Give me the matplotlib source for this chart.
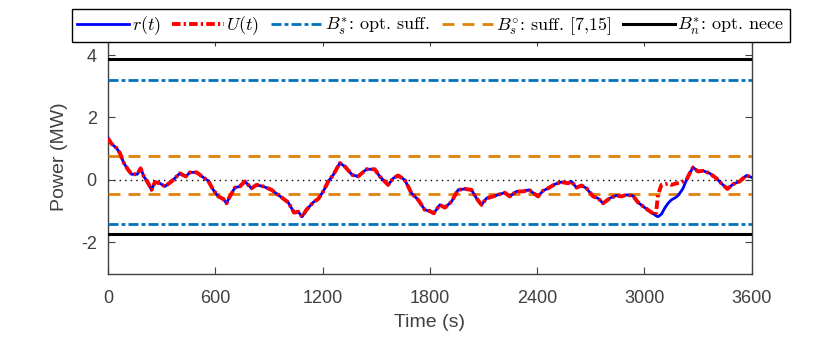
import matplotlib
matplotlib.use("Agg")
import matplotlib.pyplot as plt
import numpy as np

# ---- data ----
t = [0, 21, 48, 67, 89, 110, 132, 164, 183, 201, 225, 244, 263, 291, 319, 356,
     402, 436, 458, 496, 533, 561, 589, 617, 645, 663, 682, 710, 738, 766, 803,
     831, 868, 895, 915, 952, 980, 1008, 1041, 1064, 1086, 1110, 1148, 1176,
     1204, 1232, 1260, 1297, 1325, 1366, 1399, 1446, 1492, 1520, 1567, 1595,
     1623, 1660, 1698, 1735, 1772, 1800, 1822, 1856, 1884, 1921, 1958, 1996,
     2033, 2061, 2089, 2117, 2154, 2191, 2219, 2247, 2284, 2321, 2355, 2405,
     2433, 2461, 2499, 2536, 2573, 2592, 2620, 2648, 2676, 2713, 2741, 2769,
     2806, 2843, 2871, 2899, 2936, 2964, 3002, 3039, 3058, 3065, 3076, 3095,
     3113, 3132, 3151, 3179, 3188, 3207, 3216, 3235, 3253, 3272, 3300, 3328,
     3365, 3402, 3430, 3464, 3495, 3532, 3570, 3600]
r_vals = [1.34, 1.15, 1.02, 0.86, 0.54, 0.35, 0.18, 0.18, 0.37, 0.11, -0.10,
          -0.32, -0.07, -0.11, -0.21, -0.05, 0.21, 0.11, 0.24, 0.24, 0.08, -0.03,
          -0.32, -0.53, -0.61, -0.75, -0.53, -0.25, -0.21, -0.05, -0.27, -0.16,
          -0.21, -0.27, -0.32, -0.48, -0.60, -0.72, -1.05, -1.02, -1.18, -0.96,
          -0.72, -0.61, -0.37, -0.05, 0.16, 0.54, 0.43, 0.16, 0.11, 0.34, 0.34,
          0.11, -0.16, 0.05, 0.14, 0.00, -0.43, -0.64, -0.96, -1.00, -1.07,
          -0.80, -0.89, -0.70, -0.32, -0.29, -0.32, -0.59, -0.80, -0.59, -0.53,
          -0.46, -0.41, -0.53, -0.37, -0.37, -0.32, -0.53, -0.35, -0.27, -0.14,
          -0.07, -0.11, -0.05, -0.25, -0.18, -0.27, -0.53, -0.59, -0.75, -0.59,
          -0.50, -0.53, -0.48, -0.51, -0.72, -0.89, -1.04, -1.12, -1.15, -1.18,
          -1.10, -0.91, -0.75, -0.64, -0.55, -0.50, -0.35, -0.27, 0.00, 0.21,
          0.40, 0.27, 0.29, 0.21, 0.05, -0.11, -0.29, -0.14, -0.05, 0.14, 0.08]
u_vals = [1.34, 1.15, 1.02, 0.86, 0.54, 0.35, 0.18, 0.18, 0.37, 0.11, -0.10,
          -0.32, -0.07, -0.11, -0.21, -0.05, 0.21, 0.11, 0.24, 0.24, 0.08, -0.03,
          -0.32, -0.53, -0.61, -0.75, -0.53, -0.25, -0.21, -0.05, -0.27, -0.16,
          -0.21, -0.27, -0.32, -0.48, -0.60, -0.72, -1.05, -1.02, -1.18, -0.96,
          -0.72, -0.61, -0.37, -0.05, 0.16, 0.54, 0.43, 0.16, 0.11, 0.34, 0.34,
          0.11, -0.16, 0.05, 0.14, 0.00, -0.43, -0.64, -0.96, -1.00, -1.07,
          -0.80, -0.89, -0.70, -0.32, -0.29, -0.32, -0.59, -0.80, -0.59, -0.53,
          -0.46, -0.41, -0.53, -0.37, -0.37, -0.32, -0.53, -0.35, -0.27, -0.14,
          -0.07, -0.11, -0.05, -0.25, -0.18, -0.27, -0.53, -0.59, -0.75, -0.59,
          -0.50, -0.53, -0.48, -0.51, -0.72, -0.89, -1.04, -1.12, -1.05, -0.48,
          -0.16, -0.14, -0.12, -0.16, -0.11, -0.10, -0.07, -0.05, 0.00, 0.21,
          0.40, 0.27, 0.29, 0.21, 0.05, -0.11, -0.29, -0.14, -0.05, 0.14, 0.08]

bs_opt = [3.21, -1.40]      # B_s^*: opt. suff.
bs_suff = [0.78, -0.45]     # B_s^o: suff. [7,15]
bn_opt = [3.87, -1.73]      # B_n^*: opt. nece

xticks = [0, 600, 1200, 1800, 2400, 3000, 3600]
yticks = [-2, 0, 2, 4]

# ---- style ----
plt.rcParams['mathtext.fontset'] = 'cm'
plt.rcParams['axes.unicode_minus'] = False
gray = '#404040'

fig = plt.figure(figsize=(8.3, 3.37), dpi=100)
ax = fig.add_axes([0.130, 0.1884, 0.7757, 0.6946])

ax.axhline(0, color='black', lw=1.0, ls=(0, (1, 3)), zorder=1)

h_r, = ax.plot(t, r_vals, color='#0000FF', lw=2.0, zorder=4, label=r'$r(t)$')
h_u, = ax.plot(t, u_vals, color='#FF0000', lw=2.8, ls=(0, (2.2, 0.8, 0.6, 0.8)),
               zorder=5, label=r'$U(t)$')

h_bs = None
for v in bs_opt:
    h_bs = ax.axhline(v, color='#0072BD', lw=2.0, ls=(0, (3.6, 1.1, 1.4, 1.1)), zorder=3)
h_bo = None
for v in bs_suff:
    h_bo = ax.axhline(v, color='#E1820A', lw=2.0, ls=(0, (4.3, 2.9)), zorder=3)
h_bn = None
for v in bn_opt:
    h_bn = ax.axhline(v, color='black', lw=2.2, zorder=3)

ax.set_xlim(0, 3600)
ax.set_ylim(-3, 4.5)
ax.set_xticks(xticks)
ax.set_yticks(yticks)
ax.tick_params(direction='in', length=5, width=0.8, colors=gray, labelsize=13,
               top=True, right=True)
ax.tick_params(axis='x', pad=12)
ax.tick_params(axis='y', pad=8)
for lab in ax.get_xticklabels() + ax.get_yticklabels():
    lab.set_fontfamily('Liberation Sans')
for s in ax.spines.values():
    s.set_color(gray)
    s.set_linewidth(1.0)

ax.set_xlabel('Time (s)', fontsize=14, color=gray, family='Liberation Sans', labelpad=5)
ax.set_ylabel('Power (MW)', fontsize=14, color=gray, family='Liberation Sans', labelpad=9)

handles = [h_r, h_u, h_bs, h_bo, h_bn]
labels = [r'$r(t)$', r'$U(t)$', r'$B_s^{*}$: opt. suff.',
          r'$B_s^{\circ}$: suff. [7,15]', r'$B_n^{*}$: opt. nece']
leg = fig.legend(handles, labels, loc='center', bbox_to_anchor=(0.519, 0.924),
                 ncol=5, frameon=True, fancybox=False, edgecolor='black',
                 framealpha=1, handlelength=2.85, handletextpad=0.15,
                 columnspacing=0.65, borderpad=0.3, borderaxespad=0.0,
                 prop={'family': ['cmr10', 'DejaVu Serif'], 'size': 13})
leg.get_frame().set_linewidth(1.0)
leg.set_zorder(10)

fig.savefig('out.png', dpi=100)
